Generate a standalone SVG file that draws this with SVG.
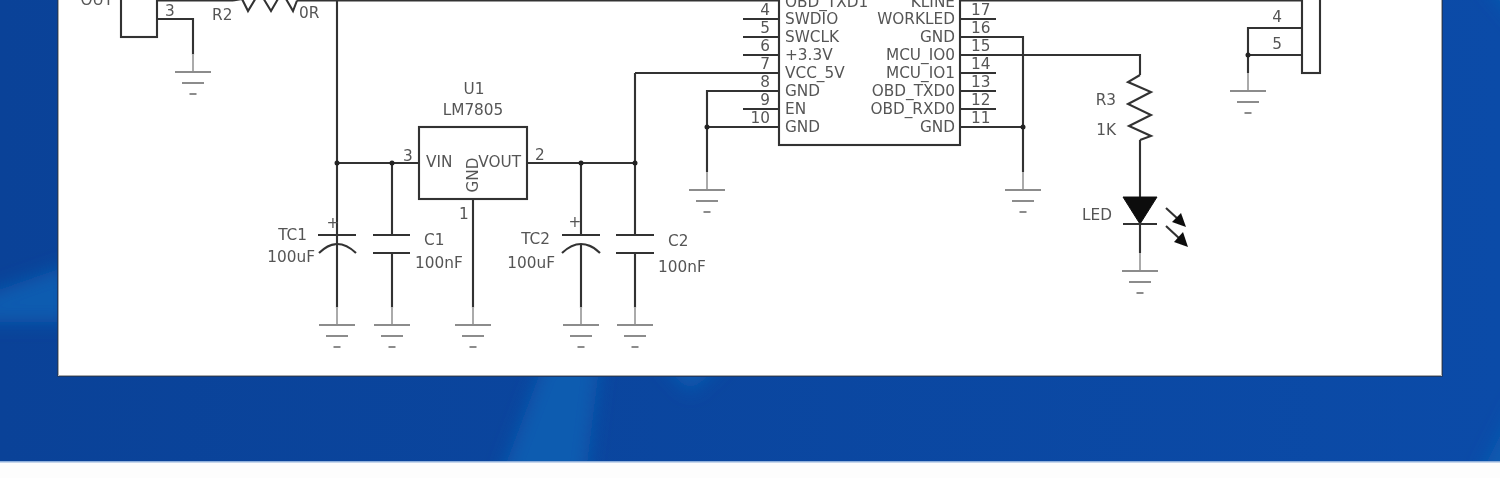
<svg xmlns="http://www.w3.org/2000/svg" width="1500" height="478" viewBox="0 0 1500 478">
<defs>
<style>
.w{fill:none;stroke:#333;stroke-width:2.100}
.s{fill:none;stroke:#aaa;stroke-width:2}
.g{fill:none;stroke:#8c8c8c;stroke-width:2}
.j{fill:#222}
text{font-family:"DejaVu Sans",Tahoma,sans-serif;font-size:15.300px;fill:#555}
.e{text-anchor:end}
.m{text-anchor:middle}
.p{fill:#0d5cb0}
</style>
<linearGradient id="bg" x1="0" y1="0" x2="1" y2="0">
<stop offset="0" stop-color="#0a4298"/><stop offset="1" stop-color="#0b4ba8"/>
</linearGradient>
<filter id="b" x="-5%" y="-5%" width="110%" height="110%"><feGaussianBlur stdDeviation="0.55"/></filter>
<filter id="bb" filterUnits="userSpaceOnUse" x="-60" y="-60" width="1620" height="600"><feGaussianBlur stdDeviation="9"/></filter>
<g id="gnd"><path class="s" d="M0 -18V0"/><path class="g" d="M-18 0H18M-11 11H11M-3.500 22H3.500"/></g>
</defs>
<g id="background">
<rect width="1500" height="462" fill="url(#bg)"/>
<g filter="url(#bb)">
<path class="p" d="M-30 300L70 265V322H-30Z"/>
<path class="p" d="M500 480L545 360H600L585 480Z"/>
<path class="p" d="M660 360L690 392L725 360Z"/>
<path class="p" d="M1478 480L1520 395V480Z"/>
<path class="p" d="M1482 -20H1520V25Z"/>
</g>
<rect x="0" y="462" width="1500" height="16" fill="#fdfdfd"/>
<rect x="0" y="461" width="1500" height="1.500" fill="#8fb0dc"/>
</g>
<g id="window"><rect x="58" y="-4" width="1384" height="380" fill="#fff"/><path d="M57.500 -4V376.500H1442.500V-4" fill="none" stroke="#1d3a66" stroke-width="1"/><path d="M58.500 -4V375.500H1441.500V-4" fill="none" stroke="#aaa" stroke-width="1"/></g>
<g filter="url(#b)">
<g id="connectors">
<path class="w" d="M157 0.500H233M297 0.500H779M960 0.500H1302"/>
<path class="w" d="M157 19H193V55"/>
<path class="w" d="M337 0V308M337 163H419M392 163V235M392 253V308M473 199V308M527 163H635M581 163V235M581 244V308M635 73V235M635 253V308M635 73H779"/>
<path class="w" d="M743 19H779M743 37H779M743 55H779M779 91H707V172M743 109H779M707 127H779"/>
<path class="w" d="M960 19H996M960 37H1023V172M960 55H1140V75M960 73H996M960 91H996M960 109H996M960 127H1023"/>
<path class="w" d="M1140 140V253M1302 28H1248V73M1248 55H1302"/>
<circle class="j" cx="337" cy="163" r="2.500"/><circle class="j" cx="392" cy="163" r="2.500"/><circle class="j" cx="581" cy="163" r="2.500"/><circle class="j" cx="635" cy="163" r="2.500"/><circle class="j" cx="707" cy="127" r="2.500"/><circle class="j" cx="1023" cy="127" r="2.500"/><circle class="j" cx="1248" cy="55" r="2.500"/>
</g>
<g id="J1"><rect class="w" x="121" y="-10" width="36" height="47"/><text class="e" x="113" y="5">OUT</text><text x="165" y="16">3</text></g>
<g id="R2"><path class="w" d="M233 0.500L242 -1L248 11L259.500 -8L271 11L282 -8L293 11L297 0.500"/><text x="212" y="20">R2</text><text x="299" y="18">0R</text></g>
<g id="U1"><rect class="w" x="419" y="127" width="108" height="72"/><text class="m" x="474" y="94">U1</text><text class="m" x="473" y="115">LM7805</text><text x="426" y="166.500">VIN</text><text class="e" x="521" y="166.500">VOUT</text><text class="m" transform="translate(478 175) rotate(-90)">GND</text><text x="403" y="161">3</text><text x="535" y="160">2</text><text x="459" y="219">1</text></g>
<g id="TC1"><path class="w" d="M318 235H356M319 253Q337 235 356 253"/><text class="m" x="333" y="228">+</text><text class="e" x="307" y="240">TC1</text><text class="e" x="315" y="262">100uF</text></g>
<g id="C1"><path class="w" d="M373 235H410M373 253H410"/><text x="424" y="245">C1</text><text x="415" y="268">100nF</text></g>
<g id="TC2"><path class="w" d="M562 235H600M562 253Q581 235 600 253"/><text class="m" x="575" y="227">+</text><text class="e" x="550" y="244">TC2</text><text class="e" x="555" y="268">100uF</text></g>
<g id="C2"><path class="w" d="M616 235H654M616 253H654"/><text x="668" y="246">C2</text><text x="658" y="272">100nF</text></g>
<g id="MCU"><rect class="w" x="779" y="-20" width="181" height="165"/>
<text x="785" y="6.500">OBD_TXD1</text><text x="785" y="24">SWDIO</text><text x="785" y="42">SWCLK</text><text x="785" y="60">+3.3V</text><text x="785" y="78">VCC_5V</text><text x="785" y="96">GND</text><text x="785" y="114">EN</text><text x="785" y="132">GND</text>
<text class="e" x="955" y="6.500">KLINE</text><text class="e" x="955" y="24">WORKLED</text><text class="e" x="955" y="42">GND</text><text class="e" x="955" y="60">MCU_IO0</text><text class="e" x="955" y="78">MCU_IO1</text><text class="e" x="955" y="96">OBD_TXD0</text><text class="e" x="955" y="114">OBD_RXD0</text><text class="e" x="955" y="132">GND</text>
<text class="e" x="770" y="15">4</text><text class="e" x="770" y="33">5</text><text class="e" x="770" y="51">6</text><text class="e" x="770" y="69">7</text><text class="e" x="770" y="87">8</text><text class="e" x="770" y="105">9</text><text class="e" x="770" y="123">10</text>
<text x="971" y="15">17</text><text x="971" y="33">16</text><text x="971" y="51">15</text><text x="971" y="69">14</text><text x="971" y="87">13</text><text x="971" y="105">12</text><text x="971" y="123">11</text></g>
<g id="R3"><path class="w" d="M1140 75L1128 82L1151 92L1128 104L1151 115L1129 126L1151 136L1140 140"/><text class="e" x="1116" y="105">R3</text><text class="e" x="1116" y="135">1K</text></g>
<g id="LED"><path d="M1123 197H1157L1140 224Z" fill="#111" stroke="#111"/><path class="w" d="M1123 224H1157"/><path class="w" d="M1166 208L1179 220M1166 226L1181 240"/><path d="M1186 227L1172 222L1181 213Z" fill="#111"/><path d="M1188 247L1174 242L1183 232Z" fill="#111"/><text class="e" x="1112" y="220">LED</text></g>
<g id="J2"><rect class="w" x="1302" y="-10" width="18" height="83"/><text class="m" x="1277" y="22">4</text><text class="m" x="1277" y="49">5</text></g>
<g id="grounds"><use href="#gnd" x="193" y="72"/><use href="#gnd" x="337" y="325"/><use href="#gnd" x="392" y="325"/><use href="#gnd" x="473" y="325"/><use href="#gnd" x="581" y="325"/><use href="#gnd" x="635" y="325"/><use href="#gnd" x="707" y="190"/><use href="#gnd" x="1023" y="190"/><use href="#gnd" x="1140" y="271"/><use href="#gnd" x="1248" y="91"/></g>
</g>
</svg>
